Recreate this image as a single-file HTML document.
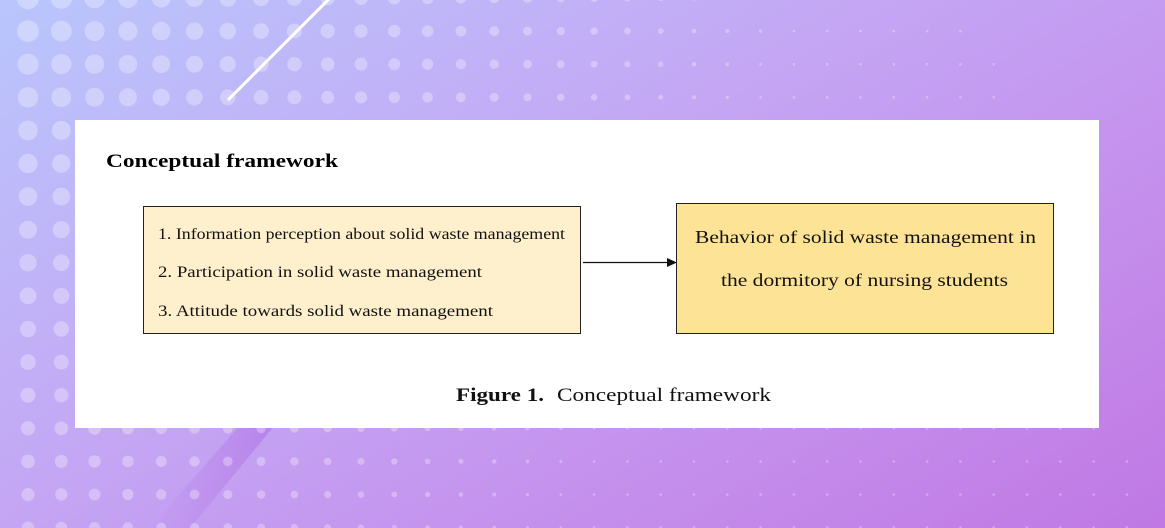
<!DOCTYPE html>
<html><head><meta charset="utf-8"><style>
html,body{margin:0;padding:0;width:1165px;height:528px;overflow:hidden}
body{background:linear-gradient(150deg,#b9c6fc 0%,#c3acf6 35%,#c594ee 65%,#c078e4 100%)}
svg{position:absolute;left:0;top:0}
</style></head><body>
<svg width="1165" height="528" viewBox="0 0 1165 528" xmlns="http://www.w3.org/2000/svg">
<defs>
<linearGradient id="band" x1="0" y1="0" x2="1" y2="0">
<stop offset="0" stop-color="#a860e0" stop-opacity="0"/>
<stop offset="1" stop-color="#a860e0" stop-opacity="0.45"/>
</linearGradient>
</defs>
<polygon points="150,528 190,528 275,425 240,425" fill="url(#band)"/>
<g id="dots" fill="#ffffff" fill-opacity="0.3"></g>
<line x1="228" y1="100" x2="330" y2="-2" stroke="#fff" stroke-width="3"/>
<rect x="75" y="120" width="1024" height="308" fill="#fff"/>
<text x="106" y="167" font-family="Liberation Serif,serif" font-weight="bold" font-size="19" textLength="232" lengthAdjust="spacingAndGlyphs">Conceptual framework</text>
<rect x="143.5" y="206.5" width="437" height="127" fill="#fef0cc" stroke="#222" stroke-width="1"/>
<g font-family="Liberation Serif,serif" font-size="16" fill="#111">
<text x="158" y="239" textLength="407" lengthAdjust="spacingAndGlyphs">1. Information perception about solid waste management</text>
<text x="158" y="277" textLength="324" lengthAdjust="spacingAndGlyphs">2. Participation in solid waste management</text>
<text x="158" y="316" textLength="335" lengthAdjust="spacingAndGlyphs">3. Attitude towards solid waste management</text>
</g>
<line x1="583" y1="262.5" x2="668" y2="262.5" stroke="#111" stroke-width="1.2"/>
<polygon points="667,258 677,262.5 667,267" fill="#111"/>
<rect x="676.5" y="203.5" width="377" height="130" fill="#fde396" stroke="#222" stroke-width="1"/>
<g font-family="Liberation Serif,serif" font-size="18" fill="#111">
<text x="695" y="243" textLength="341" lengthAdjust="spacingAndGlyphs">Behavior of solid waste management in</text>
<text x="721" y="286" textLength="287" lengthAdjust="spacingAndGlyphs">the dormitory of nursing students</text>
</g>
<text x="456" y="401" font-family="Liberation Serif,serif" font-size="19" fill="#111" font-weight="bold" textLength="88" lengthAdjust="spacingAndGlyphs">Figure 1.</text>
<text x="557" y="401" font-family="Liberation Serif,serif" font-size="19" fill="#111" textLength="214" lengthAdjust="spacingAndGlyphs">Conceptual framework</text>
</svg>
<script>
var g=document.getElementById('dots'),s='';
for(var j=0;j<17;j++){var y=-2+j*33.1;var t=y/528;
 var rmax=11.5-5*t, W=900-220*t;
 for(var i=0;i<36;i++){var x=28+i*33.3;var r=rmax*(1-x/W);
  if(r<1.3){ if(x>W+80+400*t) continue; r=1.3;}
  s+='<circle cx="'+x.toFixed(1)+'" cy="'+y.toFixed(1)+'" r="'+r.toFixed(1)+'"/>';}}
g.innerHTML=s;
</script>
</body></html>
